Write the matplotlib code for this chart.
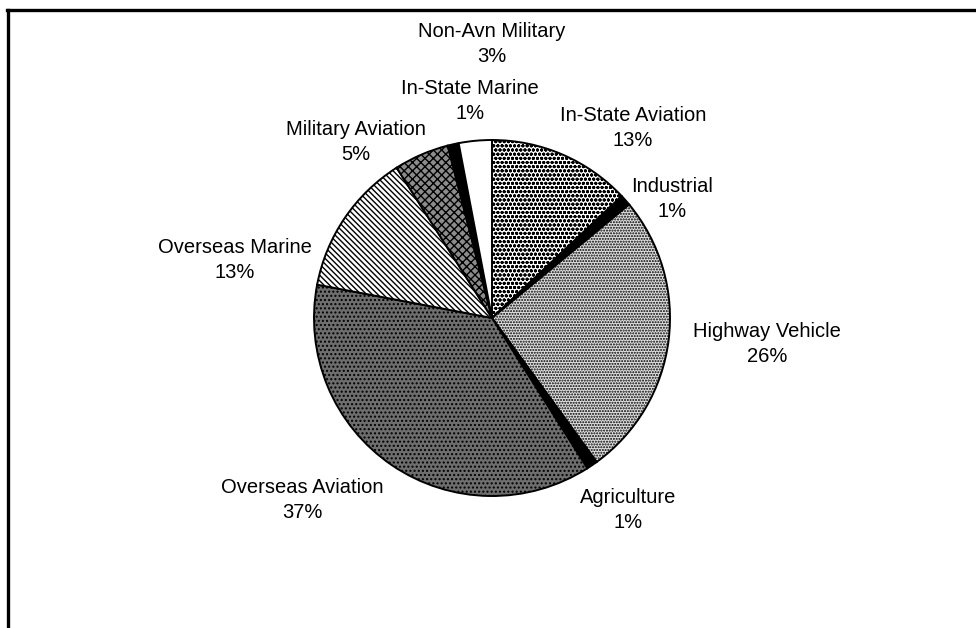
import matplotlib
matplotlib.use("Agg")
import matplotlib.pyplot as plt
from matplotlib.lines import Line2D

# fuel use share by sector, clockwise from 12 o'clock
sectors = ["In-State Aviation", "Industrial", "Highway Vehicle", "Agriculture",
           "Overseas Aviation", "Overseas Marine", "Military Aviation",
           "In-State Marine", "Non-Avn Military"]
shares = [13, 1, 26, 1, 37, 13, 5, 1, 3]

# look of each slice (scanned black & white fills)
fills = ["white", "black", "#e0e0e0", "black", "#6e6e6e", "white", "#8c8c8c", "black", "white"]
hatches = ["oooo", None, "......", None, "....", "\\\\\\\\\\\\", "xxxx", None, None]

# label block centres in pixels (x from left, y from top)
label_pos = [(633, 128), (672, 199), (767, 344), (628, 510), (302, 500),
             (235, 260), (356, 142), (470, 101), (492, 44)]

W, H = 976, 628
plt.rcParams['font.family'] = ['Liberation Sans', 'DejaVu Sans']
plt.rcParams['hatch.linewidth'] = 1.0

fig = plt.figure(figsize=(W / 100, H / 100), dpi=100)
ax = fig.add_axes([0, 0, 1, 1])

wedges, _ = ax.pie(shares, startangle=90, counterclock=False,
                   center=(492, H - 318), radius=178, frame=True,
                   wedgeprops=dict(edgecolor="black", linewidth=1.4))
for w, fc, h in zip(wedges, fills, hatches):
    w.set_facecolor(fc)
    if h:
        w.set_hatch(h)

ax.set_xlim(0, W)
ax.set_ylim(0, H)
ax.set_aspect('equal')
ax.axis('off')

for name, val, (x, y) in zip(sectors, shares, label_pos):
    ax.text(x, H - y, f"{name}\n{val}%", ha="center", va="center",
            fontsize=14.5, linespacing=1.4, color="black")

# chart border (top and left edge of the scanned frame)
fig.add_artist(Line2D([7 / W, 1], [1 - 10 / H, 1 - 10 / H], color="black", lw=2.4))
fig.add_artist(Line2D([8 / W, 8 / W], [0, 1 - 10 / H], color="black", lw=2.4))

fig.savefig("out.png", dpi=100)
